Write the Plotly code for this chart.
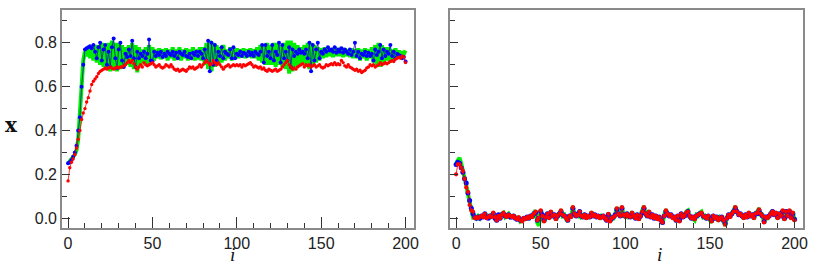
import plotly.graph_objects as go
from plotly.subplots import make_subplots

steps = list(range(201))

# Left panel
red_left = [
    0.17, 0.23, 0.255, 0.27, 0.29, 0.32, 0.36, 0.40, 0.45, 0.48,
    0.50, 0.53, 0.55, 0.58, 0.61, 0.625, 0.635, 0.645, 0.66, 0.67,
    0.675, 0.68, 0.685, 0.68, 0.685, 0.69, 0.685, 0.68, 0.685, 0.69,
    0.685, 0.69, 0.69, 0.695, 0.70, 0.71, 0.72, 0.71, 0.72, 0.705,
    0.69, 0.68, 0.69, 0.70, 0.69, 0.71, 0.70, 0.695, 0.70, 0.705,
    0.71, 0.70, 0.69, 0.695, 0.70, 0.69, 0.685, 0.69, 0.70, 0.695,
    0.69, 0.70, 0.69, 0.68, 0.675, 0.68, 0.67, 0.675, 0.68, 0.675,
    0.67, 0.68, 0.69, 0.685, 0.69, 0.68, 0.685, 0.69, 0.70, 0.69,
    0.70, 0.71, 0.72, 0.71, 0.70, 0.705, 0.72, 0.71, 0.70, 0.71,
    0.70, 0.69, 0.68, 0.69, 0.695, 0.70, 0.69, 0.695, 0.70, 0.695,
    0.70, 0.695, 0.70, 0.69, 0.70, 0.695, 0.70, 0.705, 0.71, 0.70,
    0.69, 0.695, 0.69, 0.685, 0.69, 0.68, 0.685, 0.675, 0.67, 0.68,
    0.675, 0.67, 0.675, 0.68, 0.67, 0.675, 0.68, 0.69, 0.70, 0.71,
    0.72, 0.70, 0.69, 0.68, 0.685, 0.68, 0.69, 0.695, 0.70, 0.705,
    0.69, 0.70, 0.695, 0.70, 0.69, 0.695, 0.70, 0.69, 0.695, 0.70,
    0.69, 0.685, 0.69, 0.70, 0.695, 0.70, 0.705, 0.70, 0.71, 0.70,
    0.705, 0.70, 0.72, 0.71, 0.695, 0.69, 0.70, 0.69, 0.685, 0.68,
    0.675, 0.68, 0.67, 0.675, 0.665, 0.67, 0.675, 0.685, 0.69, 0.70,
    0.695, 0.70, 0.69, 0.695, 0.70, 0.71, 0.70, 0.705, 0.71, 0.705,
    0.71, 0.715, 0.72, 0.715, 0.725, 0.73, 0.735, 0.73, 0.74, 0.735,
    0.71,
]

blue_left = [
    0.25, 0.255, 0.265, 0.28, 0.30, 0.33, 0.40, 0.46, 0.60, 0.70,
    0.77, 0.775, 0.78, 0.785, 0.775, 0.79, 0.76, 0.73, 0.78, 0.80,
    0.72, 0.77, 0.79, 0.70, 0.76, 0.69, 0.78, 0.82, 0.73, 0.685,
    0.77, 0.80, 0.72, 0.69, 0.75, 0.735, 0.77, 0.74, 0.81, 0.73,
    0.69, 0.76, 0.73, 0.75, 0.74, 0.76, 0.73, 0.75, 0.815, 0.72,
    0.715, 0.76, 0.74, 0.755, 0.745, 0.76, 0.735, 0.75, 0.74, 0.76,
    0.75, 0.745, 0.76, 0.74, 0.755, 0.73, 0.76, 0.75, 0.745, 0.76,
    0.74, 0.735, 0.75, 0.73, 0.755, 0.745, 0.76, 0.74, 0.76, 0.75,
    0.73, 0.77, 0.72, 0.81, 0.67, 0.80, 0.70, 0.79, 0.72, 0.76,
    0.74, 0.78, 0.73, 0.76, 0.75, 0.745, 0.77, 0.73, 0.78, 0.73,
    0.75, 0.745, 0.76, 0.74, 0.755, 0.75, 0.74, 0.76, 0.745, 0.755,
    0.74, 0.76, 0.75, 0.745, 0.76, 0.79, 0.71, 0.79, 0.74, 0.76,
    0.73, 0.79, 0.72, 0.76, 0.745, 0.80, 0.71, 0.79, 0.73, 0.76,
    0.72, 0.78, 0.69, 0.77, 0.74, 0.76, 0.75, 0.77, 0.755, 0.76,
    0.75, 0.77, 0.73, 0.80, 0.67, 0.79, 0.72, 0.77, 0.80, 0.73,
    0.76, 0.75, 0.77, 0.76, 0.78, 0.765, 0.77, 0.76, 0.78, 0.755,
    0.77, 0.76, 0.775, 0.755, 0.77, 0.76, 0.75, 0.77, 0.745, 0.76,
    0.80, 0.74, 0.76, 0.73, 0.75, 0.745, 0.76, 0.74, 0.755, 0.74,
    0.75, 0.72, 0.77, 0.745, 0.76, 0.79, 0.73, 0.77, 0.74, 0.76,
    0.75, 0.79, 0.74, 0.76, 0.73, 0.75, 0.745, 0.74, 0.73, 0.735,
    0.715,
]

green_left = [
    0.25, 0.26, 0.27, 0.28, 0.29, 0.31, 0.36, 0.48, 0.62, 0.72,
    0.76, 0.74, 0.77, 0.73, 0.78, 0.72, 0.79, 0.71, 0.79, 0.70,
    0.80, 0.69, 0.79, 0.68, 0.80, 0.67, 0.81, 0.68, 0.80, 0.67,
    0.80, 0.68, 0.79, 0.69, 0.78, 0.70, 0.79, 0.69, 0.80, 0.68,
    0.79, 0.665, 0.78, 0.70, 0.77, 0.71, 0.78, 0.70, 0.79, 0.71,
    0.78, 0.72, 0.77, 0.73, 0.775, 0.725, 0.77, 0.73, 0.775, 0.72,
    0.77, 0.73, 0.78, 0.72, 0.77, 0.73, 0.78, 0.72, 0.77, 0.73,
    0.775, 0.72, 0.77, 0.73, 0.78, 0.72, 0.77, 0.725, 0.78, 0.72,
    0.78, 0.70, 0.80, 0.68, 0.81, 0.67, 0.80, 0.69, 0.79, 0.70,
    0.78, 0.71, 0.79, 0.72, 0.77, 0.73, 0.78, 0.72, 0.77, 0.73,
    0.775, 0.73, 0.77, 0.735, 0.775, 0.73, 0.77, 0.735, 0.775, 0.73,
    0.77, 0.73, 0.78, 0.72, 0.79, 0.71, 0.79, 0.70, 0.80, 0.70,
    0.79, 0.70, 0.80, 0.69, 0.80, 0.70, 0.79, 0.69, 0.80, 0.68,
    0.81, 0.66, 0.81, 0.67, 0.80, 0.69, 0.79, 0.70, 0.78, 0.71,
    0.79, 0.69, 0.80, 0.68, 0.80, 0.69, 0.79, 0.71, 0.78, 0.72,
    0.775, 0.73, 0.78, 0.735, 0.78, 0.74, 0.775, 0.735, 0.78, 0.74,
    0.775, 0.74, 0.78, 0.735, 0.775, 0.74, 0.77, 0.735, 0.775, 0.73,
    0.77, 0.73, 0.775, 0.72, 0.77, 0.73, 0.775, 0.72, 0.77, 0.73,
    0.78, 0.71, 0.79, 0.70, 0.80, 0.69, 0.79, 0.70, 0.78, 0.72,
    0.78, 0.71, 0.77, 0.72, 0.775, 0.73, 0.765, 0.74, 0.76, 0.75,
    0.765,
]

# Right panel
red_right = [
    0.20, 0.245, 0.245, 0.23, 0.215, 0.18, 0.14, 0.12, 0.06, 0.035,
    0.03, 0.00, 0.005, 0.00, 0.005, 0.01, 0.005, 0.02, 0.00, 0.005,
    0.01, 0.005, 0.025, 0.005, -0.01, 0.01, 0.00, 0.015, 0.025, 0.01,
    0.005, 0.015, 0.01, 0.005, 0.01, 0.00, -0.005, 0.005, -0.01, -0.015,
    0.00, -0.005, 0.005, 0.00, 0.01, 0.005, 0.02, 0.03, -0.01, 0.00,
    0.035, 0.01, -0.015, 0.005, 0.02, 0.00, 0.03, 0.01, 0.015, -0.005,
    0.01, 0.02, 0.035, 0.015, 0.01, 0.00, -0.01, 0.01, 0.005, 0.05,
    0.02, 0.01, 0.015, 0.03, 0.01, 0.005, 0.015, 0.00, 0.01, 0.005,
    0.025, 0.01, 0.015, 0.005, 0.01, 0.00, 0.005, 0.01, 0.00, -0.01,
    0.02, -0.015, 0.00, 0.005, 0.01, 0.045, 0.02, 0.01, 0.05, 0.015,
    0.005, 0.02, 0.01, 0.005, 0.025, 0.01, 0.00, 0.015, -0.005, 0.01,
    0.03, 0.05, 0.02, 0.01, 0.03, 0.005, 0.015, 0.00, 0.01, -0.005,
    0.005, -0.01, -0.02, 0.01, 0.035, 0.02, 0.01, 0.015, 0.00, 0.005,
    -0.01, 0.01, -0.015, 0.02, 0.005, 0.01, 0.025, 0.03, 0.01, 0.00,
    0.005, -0.005, 0.01, 0.015, 0.02, 0.025, 0.01, 0.005, 0.00, 0.01,
    -0.005, -0.015, 0.01, 0.00, 0.005, -0.01, 0.00, 0.005, -0.01, -0.03,
    0.00, 0.015, 0.005, 0.02, 0.03, 0.05, 0.03, 0.015, 0.02, 0.01,
    0.00, 0.015, 0.005, 0.025, 0.01, 0.015, 0.00, 0.02, 0.025, 0.04,
    0.02, 0.01, -0.02, 0.005, 0.00, 0.01, 0.02, 0.03, 0.015, 0.025,
    0.00, 0.02, 0.01, 0.035, -0.005, 0.03, 0.01, 0.035, 0.00, 0.025,
    -0.01,
]

blue_right = [
    0.245, 0.255, 0.25, 0.23, 0.21, 0.18, 0.16, 0.115, 0.08, 0.045,
    0.02, 0.005, 0.00, 0.005, 0.00, 0.01, 0.005, 0.02, 0.005, 0.00,
    0.01, 0.01, 0.02, 0.00, -0.01, 0.015, 0.00, 0.015, 0.02, 0.01,
    0.01, 0.015, 0.005, 0.005, 0.01, 0.00, -0.005, 0.00, -0.01, -0.01,
    0.00, 0.00, 0.005, 0.00, 0.01, 0.01, 0.02, 0.025, -0.01, 0.00,
    0.03, 0.015, -0.01, 0.005, 0.02, 0.005, 0.025, 0.01, 0.015, 0.00,
    0.01, 0.02, 0.03, 0.015, 0.01, 0.005, -0.01, 0.01, 0.01, 0.045,
    0.02, 0.01, 0.02, 0.03, 0.01, 0.005, 0.015, 0.005, 0.01, 0.005,
    0.02, 0.01, 0.015, 0.005, 0.01, 0.005, 0.005, 0.01, 0.00, -0.01,
    0.015, -0.01, 0.00, 0.005, 0.015, 0.04, 0.02, 0.01, 0.045, 0.015,
    0.01, 0.02, 0.01, 0.005, 0.02, 0.01, 0.00, 0.015, 0.00, 0.01,
    0.025, 0.045, 0.02, 0.01, 0.025, 0.005, 0.015, 0.00, 0.01, 0.00,
    0.005, -0.01, -0.02, 0.01, 0.03, 0.02, 0.01, 0.015, 0.005, 0.005,
    -0.01, 0.01, -0.01, 0.02, 0.005, 0.01, 0.02, 0.03, 0.01, 0.00,
    0.005, 0.00, 0.01, 0.015, 0.02, 0.02, 0.01, 0.005, 0.00, 0.01,
    0.00, -0.01, 0.01, 0.00, 0.005, -0.005, 0.00, 0.005, -0.01, -0.025,
    0.00, 0.015, 0.01, 0.02, 0.03, 0.045, 0.03, 0.015, 0.02, 0.01,
    0.005, 0.015, 0.005, 0.02, 0.01, 0.015, 0.005, 0.02, 0.02, 0.035,
    0.02, 0.01, -0.015, 0.005, 0.005, 0.01, 0.02, 0.03, 0.015, 0.02,
    0.005, 0.02, 0.01, 0.03, 0.00, 0.03, 0.01, 0.03, 0.005, 0.02,
    -0.005,
]

green_right = [
    0.25, 0.265, 0.275, 0.25, 0.22, 0.185, 0.15, 0.11, 0.075, 0.04,
    0.005, 0.01, 0.00, 0.01, 0.00, 0.015, 0.00, 0.025, 0.00, 0.01,
    0.005, 0.015, 0.025, 0.00, -0.015, 0.015, -0.005, 0.02, 0.025, 0.005,
    0.01, 0.02, 0.005, 0.01, 0.005, 0.005, -0.01, 0.005, -0.015, -0.01,
    0.005, -0.01, 0.01, -0.005, 0.015, 0.00, 0.025, 0.035, -0.02, -0.035,
    0.04, 0.005, -0.02, 0.01, 0.025, -0.005, 0.035, 0.005, 0.02, -0.01,
    0.015, 0.015, 0.04, 0.01, 0.015, -0.005, -0.015, 0.015, 0.00, 0.055,
    0.015, 0.015, 0.01, 0.035, 0.005, 0.01, 0.02, -0.005, 0.015, 0.00,
    0.03, 0.005, 0.02, 0.00, 0.015, -0.005, 0.01, 0.005, 0.005, -0.015,
    0.025, -0.02, 0.005, 0.00, 0.015, 0.05, 0.015, 0.015, 0.055, 0.01,
    0.01, 0.025, 0.005, 0.01, 0.03, 0.005, 0.005, 0.02, -0.01, 0.015,
    0.035, 0.055, 0.015, 0.015, 0.035, 0.00, 0.02, -0.005, 0.015, -0.01,
    0.01, -0.015, -0.025, 0.015, 0.04, 0.015, 0.015, 0.01, 0.005, 0.00,
    -0.015, 0.015, -0.02, 0.025, 0.00, 0.015, 0.03, 0.035, 0.005, 0.005,
    0.00, -0.01, 0.015, 0.01, 0.025, 0.03, 0.005, 0.01, -0.005, 0.015,
    -0.01, -0.02, 0.015, -0.005, 0.01, -0.015, 0.005, 0.00, -0.015, -0.035,
    0.005, 0.01, 0.01, 0.025, 0.035, 0.055, 0.025, 0.02, 0.015, 0.015,
    -0.005, 0.02, 0.00, 0.03, 0.005, 0.02, -0.005, 0.025, 0.03, 0.045,
    0.015, 0.015, -0.025, 0.01, -0.005, 0.015, 0.025, 0.035, 0.01, 0.03,
    -0.005, 0.025, 0.005, 0.04, -0.01, 0.035, 0.005, 0.04, -0.005, 0.03,
    -0.015,
]

y_tick_vals = [0.0, 0.2, 0.4, 0.6, 0.8]
y_tick_text = ["0.0", "0.2", "0.4", "0.6", "0.8"]
x_tick_vals = [0, 50, 100, 150, 200]

GREEN = "#00ee00"
BLUE = "#0000ff"
RED = "#ff0000"

fig = make_subplots(rows=1, cols=2)

panels = [
    (1, green_left, blue_left, red_left, 4.0, 3.4),
    (2, green_right, blue_right, red_right, 5.0, 4.2),
]
for col, g, b, r, bs, rs in panels:
    fig.add_trace(go.Scatter(x=steps, y=g, mode="lines",
                             line=dict(color=GREEN, width=4),
                             showlegend=False, hoverinfo="skip"), row=1, col=col)
    fig.add_trace(go.Scatter(x=steps, y=b, mode="lines+markers",
                             line=dict(color="rgba(0,0,200,0.7)", width=1),
                             marker=dict(color=BLUE, size=bs, symbol="circle"),
                             showlegend=False), row=1, col=col)
    fig.add_trace(go.Scatter(x=steps, y=r, mode="lines+markers",
                             line=dict(color="rgba(255,0,0,0.8)", width=1),
                             marker=dict(color=RED, size=rs, symbol="circle"),
                             showlegend=False), row=1, col=col)

W, H = 830, 267
left_dom = [62 / W, 414 / W]
right_dom = [450 / W, 803 / W]
y_dom = [1 - 228 / H, 1 - 10 / H]

axis_font = dict(family="Liberation Sans, Arial, sans-serif", size=16, color="#222")
line_col = "#8a8a8a"

xcommon = dict(range=[-3.6, 205], tickvals=x_tick_vals, ticks="inside", ticklen=11,
               tickwidth=1.3, tickcolor="#333", showline=True, linecolor=line_col,
               linewidth=1.6, mirror=True, showgrid=False, zeroline=False,
               tickfont=axis_font, automargin=False,
               minor=dict(dtick=10, tick0=0, ticks="inside", ticklen=5,
                          tickwidth=1.2, tickcolor="#333", showgrid=False))
ycommon = dict(range=[-0.045, 0.95], tickvals=y_tick_vals, ticktext=y_tick_text,
               ticks="inside", ticklen=8, tickwidth=1.3, tickcolor="#333",
               showline=True, linecolor=line_col, linewidth=1.6, mirror=True,
               showgrid=False, zeroline=False, tickfont=axis_font, automargin=False,
               minor=dict(dtick=0.1, tick0=0, ticks="inside", ticklen=5,
                          tickwidth=1.2, tickcolor="#333", showgrid=False))

fig.update_layout(
    width=W, height=H,
    margin=dict(l=0, r=0, t=0, b=0),
    paper_bgcolor="white", plot_bgcolor="white",
    xaxis=dict(domain=left_dom, **xcommon),
    xaxis2=dict(domain=right_dom, **xcommon),
    yaxis=dict(domain=y_dom, **ycommon),
    yaxis2=dict(domain=y_dom, showticklabels=False, **ycommon),
)

fig.add_annotation(text="<b>x</b>", xref="paper", yref="paper",
                   x=11 / W, y=1 - 125 / H, xanchor="center", yanchor="middle",
                   showarrow=False,
                   font=dict(family="DejaVu Serif, Liberation Serif, serif", size=20, color="#111"))
for cx in (232, 659):
    fig.add_annotation(text="<i>i</i>", xref="paper", yref="paper",
                       x=cx / W, y=1 - 254.5 / H, xanchor="center", yanchor="middle",
                       showarrow=False,
                       font=dict(family="Liberation Serif, DejaVu Serif, serif", size=19, color="#111"))

fig.write_html("out.html", config={"displayModeBar": False},
               post_script="document.body.style.margin='0';document.body.style.overflow='hidden';")
